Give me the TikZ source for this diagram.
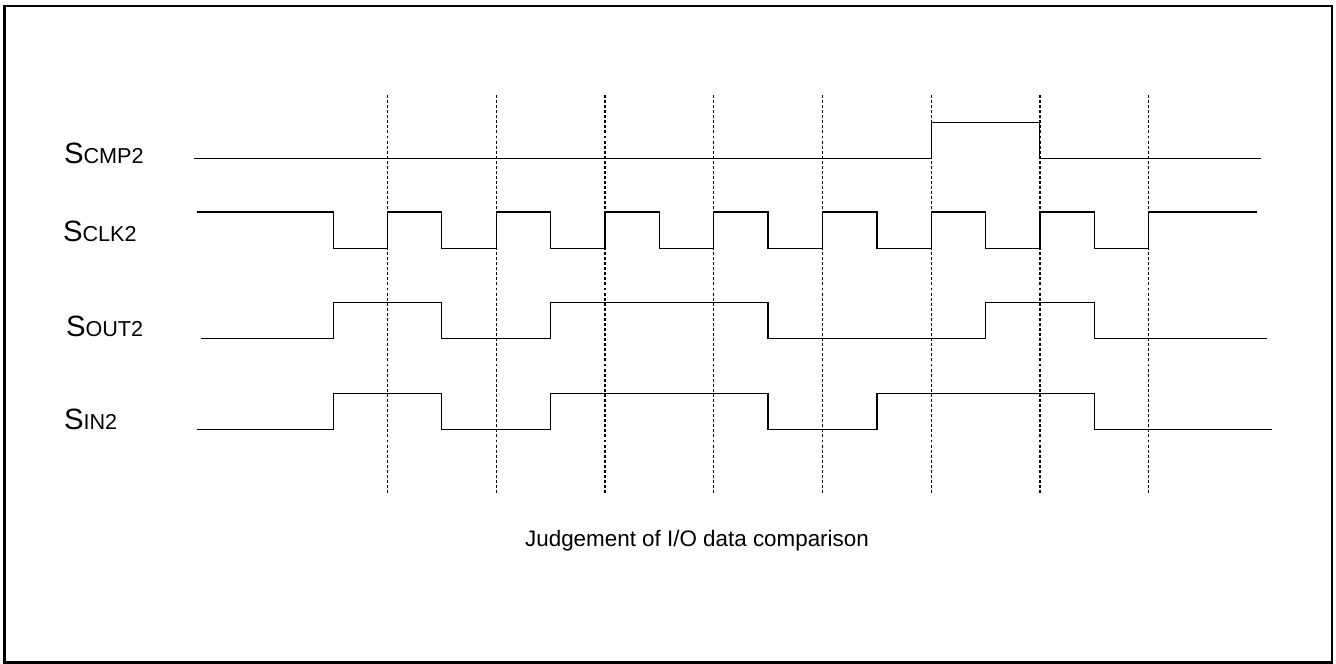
\documentclass[tikz,border=0pt]{standalone}
\usepackage{fontspec}
\setmainfont{Liberation Sans}
\newcommand{\sclabel}[2]{{\fontsize{22}{22}\selectfont #1}{\fontsize{16.2}{16.2}\selectfont #2}}
\begin{document}
\begin{tikzpicture}[x=0.75pt,y=-0.75pt,
  wave/.style={line width=1.1pt,line join=miter},
  grid/.style={line width=0.8pt,dash pattern=on 2.2pt off 1.6pt},
  lbl/.style={anchor=base west,inner sep=0pt,outer sep=0pt},
  frame/.style={line width=1.6pt}]
\useasboundingbox (0,0) rectangle (1336,664);
\draw[frame] (4.5,6) rectangle (1332,662.5);
% dashed grid lines
\foreach \x in {387.5,496.3,605,713.7,822.7,931.3,1040,1148.7}
  \draw[grid] (\x,95) -- (\x,493);
% labels
\node[lbl] (lcmp) at (64,163.3) {\sclabel{S}{CMP2}};
\node[lbl] (lclk) at (63,241) {\sclabel{S}{CLK2}};
\node[lbl] (lout) at (66,336) {\sclabel{S}{OUT2}};
\node[lbl] (lin)  at (64,429.5) {\sclabel{S}{IN2}};
% SCMP2
\draw[wave] (194,158.3) -- (931.3,158.3) -- (931.3,122.3) -- (1039.5,122.3) -- (1039.5,158.3) -- (1261,158.3);
% SCLK2
\draw[wave] (196.7,212) -- (333.3,212) -- (333.3,248.3) -- (387.5,248.3) -- (387.5,212)
  -- (441.7,212) -- (441.7,248.3) -- (496.3,248.3) -- (496.3,212)
  -- (550.3,212) -- (550.3,248.3) -- (605,248.3) -- (605,212)
  -- (659.3,212) -- (659.3,248.3) -- (713.7,248.3) -- (713.7,212)
  -- (768,212) -- (768,248.3) -- (822.7,248.3) -- (822.7,212)
  -- (877,212) -- (877,248.3) -- (931.3,248.3) -- (931.3,212)
  -- (985.7,212) -- (985.7,248.3) -- (1040,248.3) -- (1040,212)
  -- (1094.3,212) -- (1094.3,248.3) -- (1148.7,248.3) -- (1148.7,212)
  -- (1256.7,212);
% SOUT2
\draw[wave] (201,338.7) -- (333.3,338.7) -- (333.3,302.7) -- (441.7,302.7) -- (441.7,338.7)
  -- (550.3,338.7) -- (550.3,302.7) -- (768,302.7) -- (768,338.7)
  -- (985.7,338.7) -- (985.7,302.7) -- (1094.3,302.7) -- (1094.3,338.7) -- (1267.3,338.7);
% SIN2
\draw[wave] (196.7,429.7) -- (333.3,429.7) -- (333.3,393.3) -- (441.7,393.3) -- (441.7,429.7)
  -- (550.3,429.7) -- (550.3,393.3) -- (768,393.3) -- (768,429.7)
  -- (877,429.7) -- (877,393.3) -- (1094.3,393.3) -- (1094.3,429.7) -- (1272,429.7);
% caption
\node[anchor=base,inner sep=0pt] (cap) at (697,546.7) {\fontsize{16.8}{16.8}\selectfont Judgement of I/O data comparison};
\end{tikzpicture}
\end{document}
